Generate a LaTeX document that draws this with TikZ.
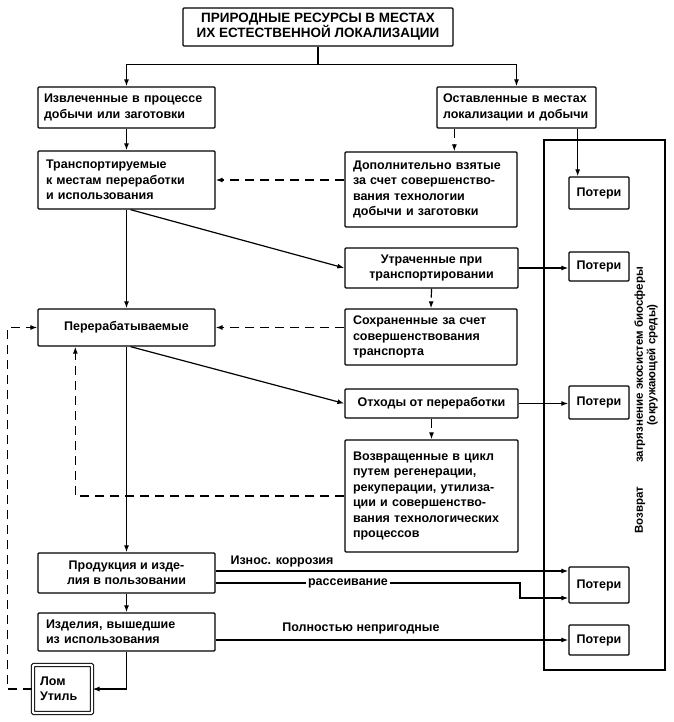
\documentclass[tikz,border=0pt]{standalone}
\usepackage{fontspec}
\setmainfont{Liberation Sans}
\usetikzlibrary{arrows.meta,calc}
\begin{document}
\begin{tikzpicture}[x=1pt,y=-1pt,
  box/.style={draw,line width=1.3pt,rounded corners=1pt,inner sep=0pt,
    font=\bfseries\fontsize{12.5}{15.5}\selectfont,align=left},
  cbox/.style={box,align=center},
  pbox/.style={box,align=center,minimum width=60pt},
  lbl/.style={inner sep=1.5pt,font=\bfseries\fontsize{12.5}{14}\selectfont},
  vtext/.style={inner sep=0pt,font=\bfseries\fontsize{11.5}{12.5}\selectfont,rotate=90,align=center},
  arr/.style={line width=1.2pt,-{Latex[length=7pt,width=5pt]}},
  ln/.style={line width=1.2pt},
  dsh/.style={arr,dash pattern=on 9pt off 6pt},
]
\useasboundingbox (0,0) rectangle (673,722);

% right zone
\node[draw,line width=1.3pt,minimum width=121pt,minimum height=530pt,inner sep=0pt] (zone) at (604.5,405) {};

\node[cbox,minimum width=270pt,minimum height=38pt,font=\bfseries\fontsize{13.5}{15}\selectfont] (top) at (318,27)
  {ПРИРОДНЫЕ РЕСУРСЫ В МЕСТАХ\\ИХ ЕСТЕСТВЕННОЙ ЛОКАЛИЗАЦИИ};

\node[box,minimum width=177pt,minimum height=41pt,text width=165pt] (izv) at (126.5,107.5)
  {Извлеченные в процессе\\добычи или заготовки};
\node[box,minimum width=159pt,minimum height=41pt,text width=147pt] (ost) at (516.5,107.5)
  {Оставленные в местах\\локализации и добычи};
\node[box,minimum width=177pt,minimum height=58pt,text width=161pt] (trans) at (126.5,180)
  {Транспортируемые\\к местам переработки\\и использования};
\node[box,minimum width=172pt,minimum height=75pt,text width=156pt] (dop) at (431,189.5)
  {Дополнительно взятые\\за счет совершенство-\\вания технологии\\добычи и заготовки};
\node[pbox,minimum height=32pt] (p1) at (599,193) {Потери};
\node[cbox,minimum width=173pt,minimum height=40pt] (utr) at (431.5,268)
  {Утраченные при\\транспортировании};
\node[pbox,minimum height=29pt] (p2) at (599,266.5) {Потери};
\node[box,minimum width=172pt,minimum height=56pt,text width=156pt] (sohr) at (431,337)
  {Сохраненные за счет\\совершенствования\\транспорта};
\node[cbox,minimum width=177pt,minimum height=37pt] (perer) at (126.5,327.5)
  {Перерабатываемые};
\node[cbox,minimum width=173pt,minimum height=29pt] (otx) at (431.5,403.5)
  {Отходы от переработки};
\node[pbox,minimum height=33pt] (p3) at (599,402.5) {Потери};
\node[box,minimum width=173pt,minimum height=112pt,text width=157pt] (vozv) at (431.5,496)
  {Возвращенные в цикл\\путем регенерации,\\рекуперации, утилиза-\\ции и совершенство-\\вания технологических\\процессов};
\node[cbox,minimum width=177pt,minimum height=40pt] (prod) at (126.5,573)
  {Продукция и изде-\\лия в пользовании};
\node[pbox,minimum height=36pt] (p4) at (599,585) {Потери};
\node[box,minimum width=177pt,minimum height=38pt,text width=161pt] (izd) at (126.5,632)
  {Изделия, вышедшие\\из использования};
\node[pbox,minimum height=30pt] (p5) at (599,640) {Потери};
\node[box,double,double distance=2.2pt,line width=1.1pt,minimum width=59pt,minimum height=48pt,text width=45pt] (lom) at (62.5,689)
  {Лом\\Утиль};

% labels
\node[lbl] (l1) at (282,561) {Износ. коррозия};
\node[lbl] (l2) at (348,583) {рассеивание};
\node[lbl] (l3) at (361,628) {Полностью непригодные};

% vertical text
\node[vtext] (vz) at (640,510) {Возврат};
\node[vtext] (zag) at (646,365) {загрязнение экосистем биосферы\\(окружающей среды)};

% connectors
\draw[arr] (top.south) -- ++(0,18) -| (izv.north);
\draw[arr] (top.south) ++(0,18) -| (ost.north);
\draw[arr] (izv.south) -- (trans.north);
\draw[dsh] ($(ost.south west)+(18,0)$) coordinate (a1) -- (a1 |- dop.north);
\draw[arr] ($(ost.south east)+(-19,0)$) coordinate (a2) -- (a2 |- p1.north);
\draw[dsh] (trans.east -| dop.west) -- (trans.east);
\draw[arr] ([xshift=4pt]trans.south) -- (utr.west);
\draw[arr] (trans.south) -- (perer.north);
\draw[arr] (utr.east) -- (utr.east -| p2.west);
\draw[dsh] (utr.south) -- (sohr.north);
\draw[dsh] (perer.east -| sohr.west) -- (perer.east);
\draw[arr] ([xshift=4pt]perer.south) -- (otx.west);
\draw[arr] (otx.east) -- (otx.east -| p3.west);
\draw[dsh] (otx.south) -- (vozv.north);
\draw[dsh] (vozv.west) -| ($(perer.south west)+(38,0)$);
\draw[arr] (perer.south) -- (prod.north);
\draw[arr] ([yshift=2pt]prod.east) -- ([yshift=2pt]prod.east -| p4.west);
\draw[ln] ([yshift=-10pt]prod.east) -- (l2.west);
\coordinate (c1) at (520,598);
\draw[arr] (l2.east) -| (c1) -- (c1 -| p4.west);
\draw[arr] (prod.south) -- (izd.north);
\draw[arr] (p5.west -| izd.east) -- (p5.west);
\draw[arr] (izd.south) |- (lom.east);
\draw[dsh] (lom.west) -- ++(-25,0) |- (perer.west);
\end{tikzpicture}
\end{document}
